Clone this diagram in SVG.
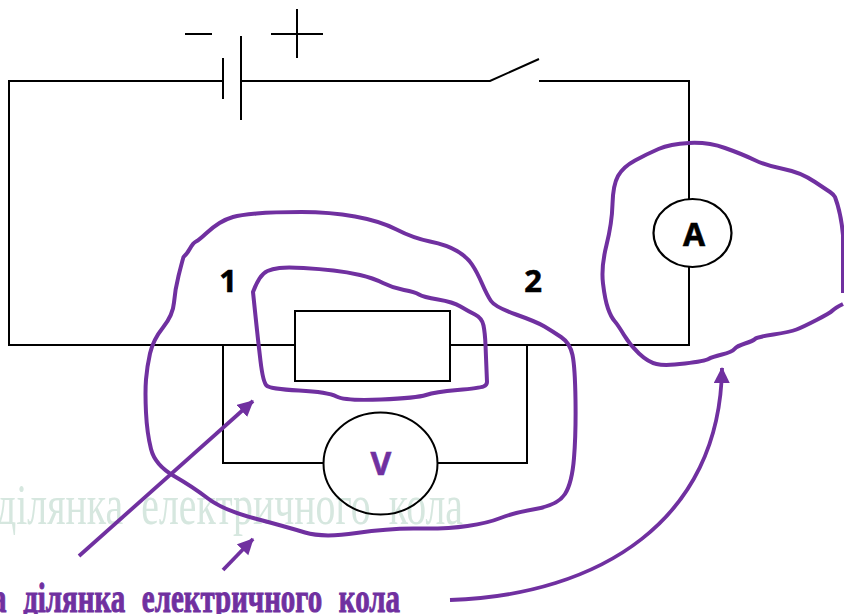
<svg xmlns="http://www.w3.org/2000/svg" width="844" height="614" viewBox="0 0 844 614">
<style>
.w{fill:none;stroke:#000;stroke-width:2;stroke-linejoin:miter}
.e{fill:#fff;stroke:#000;stroke-width:2.2}
.b{fill:none;stroke:#7030a0;stroke-width:4;stroke-linejoin:round;stroke-linecap:butt}
.a{fill:none;stroke:#7030a0;stroke-width:3.8}
.l{font-family:"Open Sans","Noto Sans",sans-serif;font-weight:700;text-anchor:middle;stroke-width:.6}
.s{font-family:"Liberation Serif",serif}
</style>
<defs>
<marker id="h" markerUnits="userSpaceOnUse" markerWidth="18" markerHeight="18" refX="15" refY="8" orient="auto">
<path d="M0 0L16 8L0 16Z" fill="#7030a0"/>
</marker>
</defs>
<text id="label-faded" class="s" x="-4" y="524" font-size="58" fill="#d6e7df" word-spacing="12" textLength="467" lengthAdjust="spacingAndGlyphs">ділянка електричного кола</text>
<g id="connectors">
<path class="w" d="M222 81H9V345H295"/>
<path class="w" d="M241 81H490L539 59M539 81H689V199M689 267V345H450"/>
<path class="w" d="M223 345V463H323M438 463H527V345"/>
</g>
<g id="battery">
<path class="w" d="M223 58V99M241 36V120"/>
<path class="w" d="M185 34H212M271 34H323M297 9V58"/>
</g>
<g id="resistor"><rect class="w" x="295" y="311" width="155" height="70"/></g>
<g id="voltmeter">
<path class="w" d="M323.500 463.500A57 51 0 0 1 437.500 463.500A57 51 0 0 1 323.500 463.500Z"/>
<text class="l" x="381" y="475" font-size="32" fill="#7030a0" stroke="#7030a0">V</text>
</g>
<g id="ammeter">
<ellipse class="e" cx="692.500" cy="233" rx="39" ry="34"/>
<text class="l" x="694" y="246" font-size="32" fill="#000" stroke="#000">A</text>
</g>
<g id="labels">
<text class="l" x="228" y="292" font-size="31" stroke="#000">1</text>
<text class="l" x="533" y="292" font-size="31" stroke="#000">2</text>
</g>
<g id="region-inner">
<path class="b" d="M253 292Q256 284 259.500 278.500Q263 273 267.500 271Q272 269 279.500 268Q287 267 303.500 268Q320 269 333.500 270.500Q347 272 360 275Q373 278 383 283Q393 288 404 290Q415 292 419 294.500Q423 297 438 299.500Q453 302 460.500 306.500Q468 311 475 314.500Q482 318 483.500 325.500Q485 333 485.500 345L487 382Q487 385 483.500 386.500Q480 388 457.500 390Q435 392 426 395Q417 398 381 399.500Q345 401 336.500 396.500Q328 392 299 390.500Q270 389 266.500 385.500Q263 382 260.500 361Q258 340 255.500 316Z"/>
</g>
<g id="region-outer">
<path class="b" d="M183.500 257Q187 254 190 248.500Q193 243 196 241.500Q199 240 206 233.500Q213 227 219.500 223Q226 219 233 217Q240 215 256.500 213.500Q273 212 301.500 212Q330 212 355 216.500Q380 221 396.500 229.500Q413 238 430 241.500Q447 245 457 251Q467 257 472 264.500Q477 272 482 283.500Q487 295 491 301Q495 307 516 314.500Q537 322 544.500 326.500Q552 331 561 337Q570 343 572.500 355Q575 367 575.500 400Q576 433 574 458Q572 483 565 494Q558 505 535.500 509Q513 513 500.500 518Q488 523 467.500 526Q447 529 418.500 528.500Q390 528 356.500 533Q323 538 305 532.500Q287 527 255 518.500Q223 510 208 498.500Q193 487 174 476Q155 465 151 449Q147 433 146 412.500Q145 392 146 379.500Q147 367 150 353.500Q153 340 163 327.500Q173 315 174 302.500Q175 290 178.500 276Q182 262 183.500 257Z"/>
</g>
<g id="region-right">
<path class="b" d="M843 293V235Q841 213 835 197Q833 194 830 192Q830 192 815 182Q800 172 783.500 169Q767 166 754.500 160Q742 154 725 148Q708 142 689 143Q670 144 658.500 149Q647 154 635 160.500Q623 167 618 176Q613 185 612.500 204Q612 223 606.500 245Q601 267 603 283.500Q605 300 608 308.500Q611 317 614.500 321Q618 325 624 335Q630 345 639 353.500Q648 362 656.500 364Q665 366 685 363.500Q705 361 708.500 359Q712 357 722 354.500Q732 352 734.500 349Q737 346 745 343.500Q753 341 755 339Q757 337 773.500 334.500Q790 332 796.500 329.500Q803 327 816.500 320Q830 313 832.500 310.500Q835 308 843 304"/>
</g>
<g id="arrows">
<path class="a" d="M79 556L253 401" marker-end="url(#h)"/>
<path class="a" d="M223 570L253 539" marker-end="url(#h)"/>
<path class="a" d="M450 600C600 595 720 520 722 368" marker-end="url(#h)"/>
</g>
<text id="label-main" class="s" x="-8" y="612" font-size="43" font-weight="700" fill="#7030a0" stroke="#7030a0" stroke-width="1" word-spacing="14" textLength="408" lengthAdjust="spacingAndGlyphs">а ділянка електричного кола</text>
</svg>
